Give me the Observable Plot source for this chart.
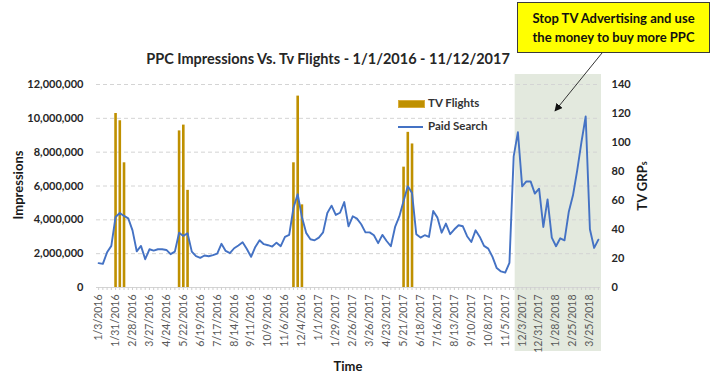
<!DOCTYPE html>
<html>
<head>
<meta charset="utf-8">
<script src="https://cdn.jsdelivr.net/npm/d3@7"></script>
<script src="https://cdn.jsdelivr.net/npm/@observablehq/plot@0.6"></script>
<style>
  body { margin: 0; background: #fff; font-family: Lato, "Open Sans", sans-serif; }
  #wrap { position: relative; width: 715px; height: 376px; overflow: hidden; }
  #wrap svg.plot { position: absolute; left: 0; top: 0; }
  .ov { position: absolute; white-space: nowrap; }
  #title { left: 128px; width: 400px; top: 50px; text-align: center; font-weight: bold; font-size: 14.5px; color: #262626; }
  #note { left: 517px; top: 2px; width: 193px; height: 51px; box-sizing: border-box; background: #FFFF00; border: 1px solid #3a3a3a; text-align: center; font-weight: bold; font-size: 13px; line-height: 19px; padding-top: 6px; color: #111; }
  .axt { font-weight: bold; font-size: 13px; color: #1a1a1a; }
  .leg { font-weight: bold; font-size: 11.5px; color: #333; }
</style>
</head>
<body>
<div id="wrap"></div>
<script>
// Week index 0 = 1/3/2016, weekly through 4/8/2018 (119 weeks)
const tickLabels = ["1/3/2016","1/31/2016","2/28/2016","3/27/2016","4/24/2016","5/22/2016","6/19/2016","7/17/2016","8/14/2016","9/11/2016","10/9/2016","11/6/2016","12/4/2016","1/1/2017","1/29/2017","2/26/2017","3/26/2017","4/23/2017","5/21/2017","6/18/2017","7/16/2017","8/13/2017","9/10/2017","10/8/2017","11/5/2017","12/3/2017","12/31/2017","1/28/2018","2/25/2018","3/25/2018"];

// Paid Search impressions (millions), weekly
const paidSearch = [
  1.44,1.40,2.08,2.46,4.17,4.40,4.23,4.09,3.38,2.14,
  2.46,1.67,2.26,2.18,2.26,2.26,2.22,1.97,2.12,3.24,
  3.05,3.21,2.12,1.85,1.75,1.89,1.85,1.91,2.00,2.58,
  2.16,2.03,2.32,2.48,2.67,2.28,1.81,2.40,2.79,2.56,
  2.50,2.42,2.65,2.44,2.99,3.11,4.70,5.51,4.17,3.23,
  2.85,2.79,2.95,3.26,4.40,4.84,4.29,4.42,5.05,3.62,
  4.21,4.07,3.74,3.26,3.26,3.09,2.62,3.11,2.75,2.44,
  3.58,4.20,5.11,5.98,5.58,3.15,2.95,3.09,2.99,4.52,
  4.13,3.24,3.78,3.15,3.44,3.68,3.62,3.03,2.69,3.38,
  2.99,2.46,2.30,1.81,1.15,0.95,0.88,1.46,7.75,9.18,
  5.98,6.27,6.27,5.55,5.84,3.58,5.21,2.95,2.44,2.91,
  2.79,4.46,5.45,6.92,8.59,10.11,3.44,2.34,2.83
];

// TV flights: week index and GRPs
const flightWeeks = [4,5,6, 19,20,21, 46,47,48, 72,73,74];
const flightGRPs  = [120,115,86, 108,112,67, 86,132,57, 83,107,99];

const leftTicks  = [0,2e6,4e6,6e6,8e6,10e6,12e6];
const rightTicks = [0,20,40,60,80,100,120,140];
const shadeFrom = 98.35; // start of highlighted period (week index)

const k = 12e6 / 140; // GRP -> impressions axis mapping
const lineData = paidSearch.map((v, i) => ({week: i, value: v * 1e6}));
const flights = flightWeeks.map((w, i) => ({week: w, grp: flightGRPs[i]}));
const nWeeks = paidSearch.length;
const allWeeks = d3.range(nWeeks);
const labelWeeks = tickLabels.map((_, i) => i * 4);

const chart = Plot.plot({
  width: 715, height: 376,
  marginTop: 84, marginBottom: 89, marginLeft: 96, marginRight: 115,
  style: {fontFamily: "Lato, 'Open Sans', sans-serif", fontSize: "11px", background: "transparent", overflow: "visible"},
  x: {type: "linear", domain: [-0.5, nWeeks - 0.5]},
  y: {domain: [0, 12e6]},
  marks: [
    Plot.rect([{from: shadeFrom, to: nWeeks - 0.5}], {x1: "from", x2: "to", fill: "#E3E9DE", insetTop: -10, insetBottom: -64, insetRight: -1}),
    Plot.gridY({ticks: leftTicks.slice(1), stroke: "#d4d4d4", strokeOpacity: 1, strokeDasharray: "4,3"}),
    Plot.ruleY([0], {stroke: "#d4d4d4"}),
    Plot.axisX({ticks: allWeeks, tickSize: 3, tickFormat: () => "", stroke: "#cfcfcf", label: null}),
    Plot.axisX({ticks: labelWeeks, tickSize: 0, tickPadding: 7, tickRotate: -90, tickFormat: i => tickLabels[i / 4], fill: "#595959", fontSize: 10.5, label: null}),
    Plot.axisY({ticks: leftTicks, tickSize: 0, tickPadding: 13, tickFormat: d3.format(","), fill: "#262626", fontWeight: "bold", fontSize: 11, label: null}),
    Plot.axisY({anchor: "right", ticks: rightTicks.map(t => t * k), tickSize: 0, tickPadding: 11, tickFormat: v => Math.round(v / k), fill: "#262626", fontWeight: "bold", fontSize: 11, label: null}),
    Plot.ruleX(flights, {x: "week", y1: 0, y2: d => d.grp * k, stroke: "#BF9000", strokeWidth: 2.6}),
    Plot.line(lineData, {x: "week", y: "value", stroke: "#4472C4", strokeWidth: 1.9})
  ]
});
chart.classList.add("plot");

const wrap = document.getElementById("wrap");
wrap.appendChild(chart);

wrap.insertAdjacentHTML("beforeend", `
  <div class="ov" id="title">PPC Impressions Vs. Tv Flights - 1/1/2016 - 11/12/2017</div>
  <div class="ov" id="note">Stop TV Advertising and use<br>the money to buy more PPC</div>
  <svg class="ov" style="left:0;top:0" width="715" height="376">
    <defs><marker id="ah" viewBox="0 0 10 10" refX="9" refY="5" markerWidth="8" markerHeight="8" orient="auto-start-reverse">
      <path d="M0,0 L10,5 L0,10 z" fill="#111"/></marker></defs>
    <line x1="602" y1="53" x2="555" y2="111" stroke="#333" stroke-width="1" marker-end="url(#ah)"/>
  </svg>
  <div class="ov" style="left:398px;top:100px;width:27px;height:8px;background:#BF9000;box-sizing:border-box;border:1px solid #d9ad3a"></div>
  <div class="ov leg" style="left:428px;top:96px">TV Flights</div>
  <div class="ov" style="left:398px;top:126px;width:25px;height:2px;background:#4472C4"></div>
  <div class="ov leg" style="left:428px;top:119px">Paid Search</div>
  <div class="ov axt" style="left:18px;top:185px;transform:translate(-50%,-50%) rotate(-90deg)">Impressions</div>
  <div class="ov axt" style="left:642px;top:186px;transform:translate(-50%,-50%) rotate(-90deg)">TV GRP<span style="font-size:9px">s</span></div>
  <div class="ov axt" style="left:348px;top:366px;transform:translate(-50%,-50%)">Time</div>
`);
</script>
</body>
</html>
